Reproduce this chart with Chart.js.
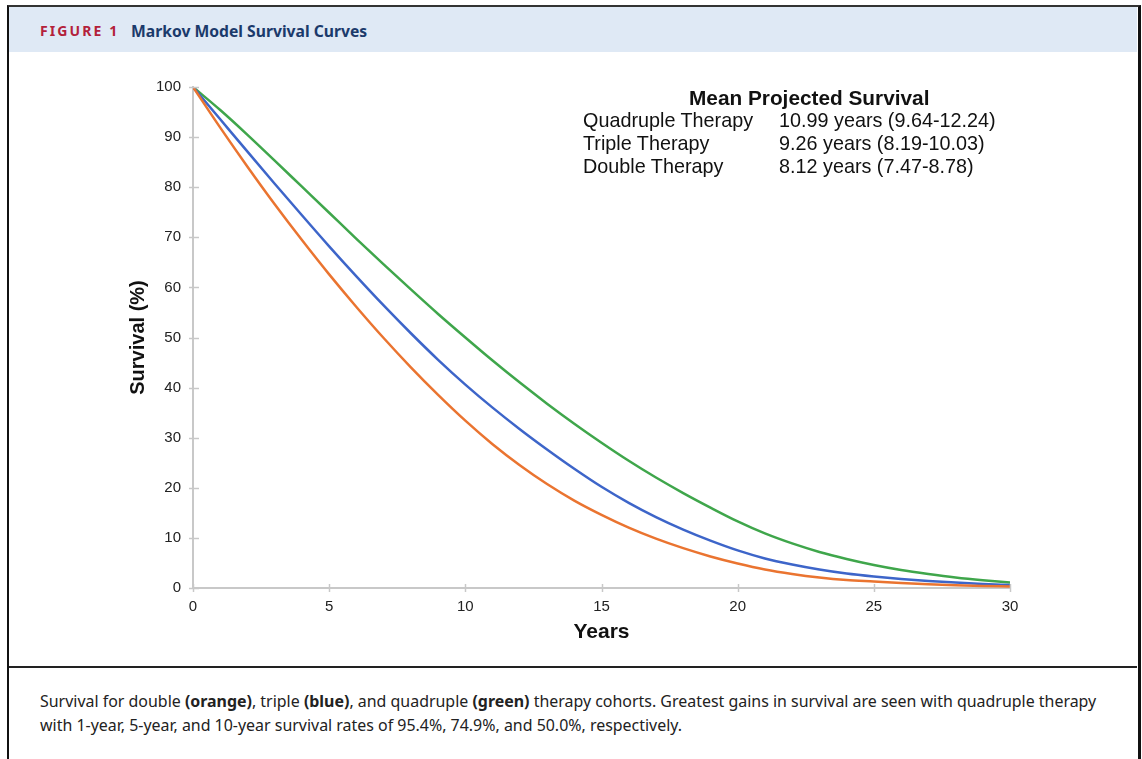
<!DOCTYPE html>
<html>
<head>
<meta charset="utf-8">
<script src="https://cdn.jsdelivr.net/npm/chart.js@4.4.0/dist/chart.umd.min.js"></script>
<style>
  html, body { margin: 0; padding: 0; background: #ffffff; }
  body { width: 1142px; height: 759px; position: relative; overflow: hidden; font-family: "Liberation Sans", Arial, sans-serif; }
  #frame { position: absolute; left: 7px; top: 5px; width: 1129px; height: 760px; border-left: 2px solid #111; border-right: 3px solid #111; border-top: 2px solid #333; }
  #header { position: absolute; left: 9px; top: 7px; width: 1128px; height: 45px; background: #dfe9f5; }
  #fig { position: absolute; left: 40px; top: 21px; font-family: "Noto Sans", sans-serif; font-weight: 700; font-size: 14px; letter-spacing: 2.1px; color: #b3213a; line-height: 20px; }
  #ttl { position: absolute; left: 131px; top: 20px; font-family: "Noto Sans", sans-serif; font-weight: 700; font-size: 15.7px; color: #1b3a6b; line-height: 22px; }
  #sep { position: absolute; left: 9px; top: 666px; width: 1128px; height: 2px; background: #222; }
  #cap { position: absolute; left: 40px; top: 689px; width: 1090px; font-family: "Noto Sans", sans-serif; font-size: 15.95px; line-height: 24px; color: #222; white-space: nowrap; }
  #chartBox { position: absolute; left: 8px; top: 53px; width: 1129px; height: 613px; }
  .ann { position: absolute; font-family: "Liberation Sans", Arial, sans-serif; color: #111; white-space: nowrap; line-height: 23px; }
</style>
</head>
<body>
<div id="header"></div>
<div id="frame"></div>
<div id="fig">FIGURE 1</div>
<div id="ttl">Markov Model Survival Curves</div>
<div id="chartBox"><canvas id="c"></canvas></div>
<div class="ann" style="left:689px; top:86px; font-size:20.8px; font-weight:700;">Mean Projected Survival</div>
<div class="ann" style="left:583px; top:109px; font-size:19.8px;">Quadruple Therapy</div>
<div class="ann" style="left:779px; top:109px; font-size:19.8px;">10.99 years (9.64-12.24)</div>
<div class="ann" style="left:583px; top:132px; font-size:19.8px;">Triple Therapy</div>
<div class="ann" style="left:779px; top:132px; font-size:19.8px;">9.26 years (8.19-10.03)</div>
<div class="ann" style="left:583px; top:155px; font-size:19.8px;">Double Therapy</div>
<div class="ann" style="left:779px; top:155px; font-size:19.8px;">8.12 years (7.47-8.78)</div>
<div id="sep"></div>
<div id="cap">Survival for double <b>(orange)</b>, triple <b>(blue)</b>, and quadruple <b>(green)</b> therapy cohorts. Greatest gains in survival are seen with quadruple therapy<br>with 1-year, 5-year, and 10-year survival rates of 95.4%, 74.9%, and 50.0%, respectively.</div>
<script>
// ---- data ----
const years = [0,1,2,3,4,5,6,7,8,9,10,11,12,13,14,15,16,17,18,19,20,21,22,23,24,25,26,27,28,29,30];
const doubleTherapy = [100,91.9,84.1,76.6,69.45,62.6,56.1,49.9,44.05,38.55,33.4,28.7,24.5,20.75,17.45,14.6,12.05,9.85,7.95,6.3,4.9,3.7,2.8,2.1,1.6,1.3,1.0,0.75,0.55,0.4,0.3];
const tripleTherapy = [100,93.55,87.1,80.7,74.4,68.2,62.2,56.4,50.85,45.55,40.6,36.0,31.7,27.65,23.8,20.2,17.0,14.15,11.65,9.45,7.5,5.9,4.7,3.7,2.9,2.3,1.8,1.4,1.1,0.8,0.6];
const quadrupleTherapy = [100,95.4,90.45,85.3,80.1,74.9,69.7,64.6,59.6,54.7,50.0,45.4,41.0,36.8,32.8,29.0,25.4,22.05,18.95,16.05,13.3,10.9,8.9,7.2,5.8,4.6,3.6,2.8,2.1,1.55,1.1];
const yTicks = [0,10,20,30,40,50,60,70,80,90,100];
const xTicks = [0,5,10,15,20,25,30];
const seriesNames = ['Double Therapy','Triple Therapy','Quadruple Therapy'];
const seriesColors = ['#ea7430','#3d65c9','#3fa64b'];

const toPts = arr => years.map((x, i) => ({x: x, y: arr[i]}));
const seriesData = [doubleTherapy, tripleTherapy, quadrupleTherapy];

const crossTicks = {
  id: 'crossTicks',
  afterDraw(chart) {
    const ctx = chart.ctx;
    const xs = chart.scales.x, ys = chart.scales.y;
    ctx.save();
    ctx.strokeStyle = '#c8c8c8';
    ctx.lineWidth = 1.5;
    const ax = xs.getPixelForValue(0);
    yTicks.forEach(v => {
      const py = Math.round(ys.getPixelForValue(v)) + 0.5;
      ctx.beginPath(); ctx.moveTo(ax - 4, py); ctx.lineTo(ax + 6, py); ctx.stroke();
    });
    const ay = ys.getPixelForValue(0);
    xTicks.forEach(v => {
      const px = Math.round(xs.getPixelForValue(v)) + 0.5;
      ctx.beginPath(); ctx.moveTo(px, ay - 4); ctx.lineTo(px, ay + 4); ctx.stroke();
    });
    ctx.restore();
  }
};

new Chart(document.getElementById('c'), {
  type: 'line',
  data: {
    datasets: seriesData.map((d, i) => ({
      label: seriesNames[i],
      data: toPts(d),
      borderColor: seriesColors[i],
      backgroundColor: seriesColors[i],
      borderWidth: 2.5,
      pointRadius: 0,
      cubicInterpolationMode: 'monotone',
      fill: false
    }))
  },
  options: {
    responsive: true,
    maintainAspectRatio: false,
    animation: false,
    layout: { padding: { left: 113, right: 127, top: 34, bottom: 0 } },
    plugins: { legend: { display: false }, tooltip: { enabled: false } },
    scales: {
      x: {
        type: 'linear', min: 0, max: 30,
        afterBuildTicks: s => { s.ticks = xTicks.map(v => ({value: v})); },
        afterFit: s => { s.height = 78; },
        grid: { drawOnChartArea: false, drawTicks: false, color: '#c8c8c8' },
        border: { display: true, color: '#c8c8c8', width: 2 },
        ticks: { padding: 10, color: '#222', font: { family: 'Liberation Sans', size: 15 } },
        title: { display: true, text: 'Years', color: '#111', font: { family: 'Liberation Sans', size: 21, weight: 'bold' }, padding: { top: 0, bottom: 21 } }
      },
      y: {
        type: 'linear', min: 0, max: 100,
        afterBuildTicks: s => { s.ticks = yTicks.map(v => ({value: v})); },
        afterFit: s => { s.width = 72; },
        grid: { drawOnChartArea: false, drawTicks: false, color: '#c8c8c8' },
        border: { display: true, color: '#c8c8c8', width: 2 },
        ticks: { padding: 12, color: '#222', font: { family: 'Liberation Sans', size: 15 } },
        title: { display: true, text: 'Survival (%)', color: '#111', font: { family: 'Liberation Sans', size: 20, weight: 'bold' }, padding: { top: 5, bottom: 0 } }
      }
    }
  },
  plugins: [crossTicks]
});
</script>
</body>
</html>
